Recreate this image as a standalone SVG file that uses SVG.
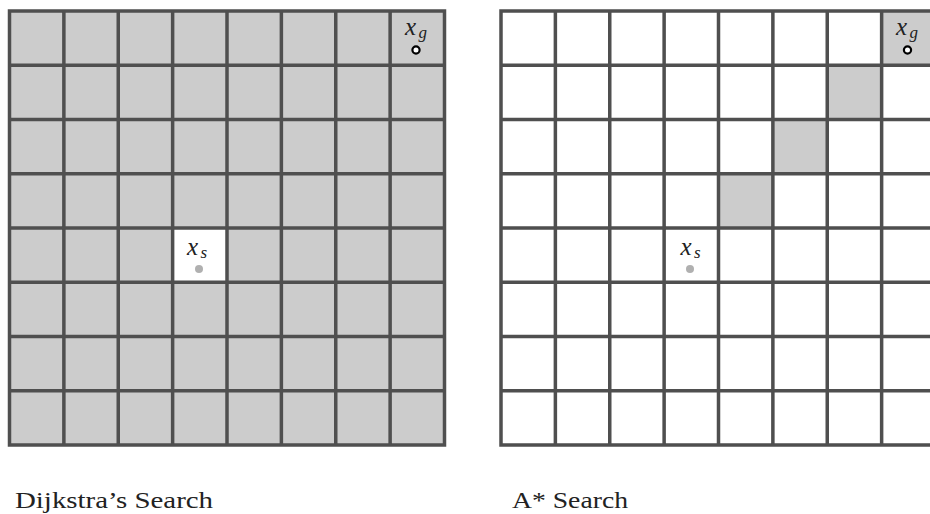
<svg xmlns="http://www.w3.org/2000/svg" width="930" height="514" viewBox="0 0 930 514">
  <style>
    .bg { fill: #ffffff; }
    .cell { fill: #cccccc; }
    .open { fill: #ffffff; }
    .grid { fill: none; stroke: #4f4f4f; stroke-width: 3.5; stroke-linecap: square; }
    .math { font-family: "Liberation Serif", "DejaVu Serif", serif; font-style: italic; fill: #222; }
    .sub { font-family: "Liberation Serif", "DejaVu Serif", serif; font-style: italic; fill: #222; }
    .cap { font-family: "Liberation Serif", "DejaVu Serif", serif; fill: #222; font-size: 24px; }
    .start { fill: #b0b0b0; }
    .goal { fill: #ffffff; stroke: #000; stroke-width: 2.2; }
  </style>
  <defs>
    <path id="gridlines" class="grid" d="M9.5 11V445 M63.875 11V445 M118.25 11V445 M172.625 11V445 M227 11V445 M281.375 11V445 M335.75 11V445 M390.125 11V445 M444.5 11V445 M9.5 11H444.5 M9.5 65.25H444.5 M9.5 119.5H444.5 M9.5 173.75H444.5 M9.5 228H444.5 M9.5 282.25H444.5 M9.5 336.5H444.5 M9.5 390.75H444.5 M9.5 445H444.5"/>
  </defs>
  <rect class="bg" x="0" y="0" width="930" height="514"/>

  <g id="dijkstra">
    <rect class="cell" x="9.5" y="11" width="435" height="434"/>
    <rect class="open" x="172.625" y="228" width="54.375" height="54.25"/>
    <use href="#gridlines"/>
    <g id="dijkstra-start">
      <text class="math" x="187" y="255" font-size="25">x</text>
      <text class="sub" x="200.5" y="258" font-size="17">s</text>
      <circle class="start" cx="199" cy="269" r="4"/>
    </g>
    <g id="dijkstra-goal">
      <text class="math" x="405" y="35" font-size="25">x</text>
      <text class="sub" x="418.5" y="38" font-size="17">g</text>
      <circle class="goal" cx="416" cy="50" r="3.6"/>
    </g>
    <text id="dijkstra-caption" class="cap" x="15" y="508" textLength="198" lengthAdjust="spacingAndGlyphs">Dijkstra’s Search</text>
  </g>

  <g id="astar">
    <g transform="translate(491.5 0)">
      <rect class="cell" x="390.125" y="11" width="54.375" height="54.25"/>
      <rect class="cell" x="335.75" y="65.25" width="54.375" height="54.25"/>
      <rect class="cell" x="281.375" y="119.5" width="54.375" height="54.25"/>
      <rect class="cell" x="227" y="173.75" width="54.375" height="54.25"/>
      <use href="#gridlines"/>
    </g>
    <g id="astar-start">
      <text class="math" x="680.5" y="255" font-size="25">x</text>
      <text class="sub" x="694" y="258" font-size="17">s</text>
      <circle class="start" cx="690" cy="269" r="4"/>
    </g>
    <g id="astar-goal">
      <text class="math" x="896" y="35" font-size="25">x</text>
      <text class="sub" x="909.5" y="38" font-size="17">g</text>
      <circle class="goal" cx="907.5" cy="50" r="3.6"/>
    </g>
    <text id="astar-caption" class="cap" x="512" y="508" textLength="116" lengthAdjust="spacingAndGlyphs">A* Search</text>
  </g>
</svg>
